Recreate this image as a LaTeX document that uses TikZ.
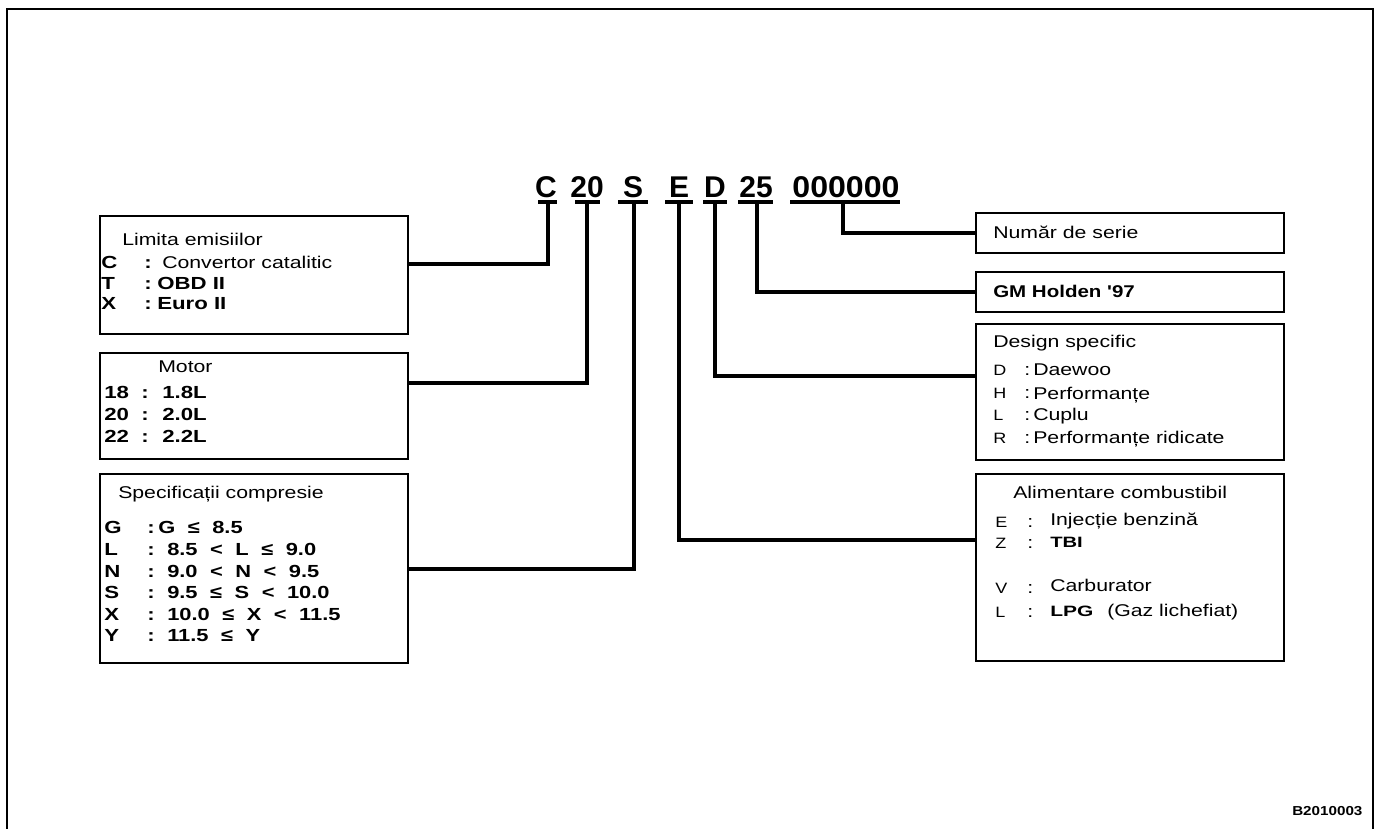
\documentclass[tikz,border=0pt]{standalone}
\usepackage{fontspec}
\setmainfont{Liberation Sans}
\begin{document}
\begin{tikzpicture}[x=1pt,y=-1pt,
  box/.style={draw, line width=2pt, anchor=north west, inner sep=0, rectangle},
  conn/.style={line width=4pt, line cap=rect},
  ul/.style={line width=4.5pt},
  tx/.style={anchor=base west, inner sep=0, xscale=1.25, font=\fontsize{17}{20}\selectfont},
  bk/.style={anchor=base west, inner sep=0, xscale=1.27, font=\bfseries\fontsize{17.5}{20}\selectfont},
  bks/.style={anchor=base west, inner sep=0, xscale=1.25, font=\bfseries\fontsize{17.5}{20}\selectfont, execute at begin node={\spaceskip=10pt\relax}},
  sk/.style={anchor=base west, inner sep=0, xscale=1.2, font=\fontsize{15}{18}\selectfont},
  code/.style={anchor=base, inner sep=0, font=\bfseries\fontsize{30}{34}\selectfont}]
\useasboundingbox (0,0) rectangle (1381,829);
% outer frame (open at the bottom)
\draw[line width=2pt] (7,829) -- (7,9) -- (1373,9) -- (1373,829);

% code
\node[code] (tC) at (546,197) {C};
\node[code] (t20) at (587,197) {20};
\node[code] (tS) at (633,197) {S};
\node[code] (tE) at (679,197) {E};
\node[code] (tD) at (715,197) {D};
\node[code] (t25) at (756,197) {25};
\node[code, xscale=1.07] (t6) at (846,197) {000000};
\draw[ul] (538,202) -- (557,202);
\draw[ul] (575,202) -- (600,202);
\draw[ul] (618,202) -- (648,202);
\draw[ul] (665,202) -- (693,202);
\draw[ul] (703,202) -- (727,202);
\draw[ul] (738,202) -- (773,202);
\draw[ul] (790,202) -- (900,202);
\coordinate (sC) at (548,202);
\coordinate (s20) at (587,202);
\coordinate (sS) at (634,202);
\coordinate (sE) at (679,202);
\coordinate (sD) at (715,202);
\coordinate (s25) at (757,202);
\coordinate (s6) at (843,202);

% boxes
\node[box, minimum width=308, minimum height=118] (lim) at (99,215) {};
\node[box, minimum width=308, minimum height=106] (mot) at (99,352) {};
\node[box, minimum width=308, minimum height=189] (spec) at (99,473) {};
\node[box, minimum width=308, minimum height=40] (num) at (975,212) {};
\node[box, minimum width=308, minimum height=40] (gm) at (975,271) {};
\node[box, minimum width=308, minimum height=136] (des) at (975,323) {};
\node[box, minimum width=308, minimum height=187] (ali) at (975,473) {};

% connector heights
\coordinate (yC) at (0,264);
\coordinate (y20) at (0,383);
\coordinate (yD) at (0,376);
\coordinate (yE) at (0,540);

\draw[conn] (sC) |- (lim.east |- yC);
\draw[conn] (s20) |- (mot.east |- y20);
\draw[conn] (sS) |- (spec.east);
\draw[conn] (sE) |- (ali.west |- yE);
\draw[conn] (sD) |- (des.west |- yD);
\draw[conn] (s25) |- (gm.west);
\draw[conn] (s6) |- (num.west);

% Limita emisiilor
\node[tx] (l0) at (122,245) {Limita emisiilor};
\node[bk] (l1a) at (101,268) {C};
\node[bk] (l1b) at (144,268) {:};
\node[tx] (l1c) at (162,268) {Convertor catalitic};
\node[bk] (l2a) at (101,289) {T};
\node[bk] (l2b) at (144,289) {:};
\node[bk] (l2c) at (157,289) {OBD II};
\node[bk] (l3a) at (101,309) {X};
\node[bk] (l3b) at (144,309) {:};
\node[bk] (l3c) at (157,309) {Euro II};

% Motor
\node[tx] (m0) at (158,372) {Motor};
\node[bk] (m1a) at (104,398) {18};
\node[bk] (m1b) at (141,398) {:};
\node[bk] (m1c) at (162,398) {1.8L};
\node[bk] (m2a) at (104,420) {20};
\node[bk] (m2b) at (141,420) {:};
\node[bk] (m2c) at (162,420) {2.0L};
\node[bk] (m3a) at (104,442) {22};
\node[bk] (m3b) at (141,442) {:};
\node[bk] (m3c) at (162,442) {2.2L};

% Specificatii compresie
\node[tx] (c0) at (118,498) {Specificații compresie};
\node[bk] (c1a) at (104,533) {G};
\node[bk] (c1b) at (147,533) {:};
\node[bks] (c1c) at (158,533) {G ≤ 8.5};
\node[bk] (c2a) at (104,555) {L};
\node[bk] (c2b) at (147,555) {:};
\node[bks] (c2c) at (167,555) {8.5 < L ≤ 9.0};
\node[bk] (c3a) at (104,577) {N};
\node[bk] (c3b) at (147,577) {:};
\node[bks] (c3c) at (167,577) {9.0 < N < 9.5};
\node[bk] (c4a) at (104,598) {S};
\node[bk] (c4b) at (147,598) {:};
\node[bks] (c4c) at (167,598) {9.5 ≤ S < 10.0};
\node[bk] (c5a) at (104,620) {X};
\node[bk] (c5b) at (147,620) {:};
\node[bks] (c5c) at (167,620) {10.0 ≤ X < 11.5};
\node[bk] (c6a) at (104,641) {Y};
\node[bk] (c6b) at (147,641) {:};
\node[bks] (c6c) at (167,641) {11.5 ≤ Y};

% right boxes
\node[tx] (n0) at (993,238) {Număr de serie};
\node[bk, xscale=0.95, font=\bfseries\fontsize{17}{20}\selectfont] (g0) at (993,297) {GM Holden \textquotesingle97};

\node[tx] (d0) at (993,347) {Design specific};
\node[sk] (d1a) at (993,375) {D};
\node[tx] (d1b) at (1024,375) {:};
\node[tx] (d1c) at (1033,375) {Daewoo};
\node[sk] (d2a) at (993,398) {H};
\node[tx] (d2b) at (1024,398) {:};
\node[tx] (d2c) at (1033,399) {Performanțe};
\node[sk] (d3a) at (993,420) {L};
\node[tx] (d3b) at (1024,420) {:};
\node[tx] (d3c) at (1033,420) {Cuplu};
\node[sk] (d4a) at (993,443) {R};
\node[tx] (d4b) at (1024,443) {:};
\node[tx] (d4c) at (1033,443) {Performanțe ridicate};

\node[tx] (a0) at (1013,498) {Alimentare combustibil};
\node[sk] (a1a) at (995,527) {E};
\node[tx] (a1b) at (1027,527) {:};
\node[tx] (a1c) at (1050,525) {Injecție benzină};
\node[sk] (a2a) at (995,548) {Z};
\node[tx] (a2b) at (1027,548) {:};
\node[bk, xscale=1.06, font=\bfseries\fontsize{15}{18}\selectfont] (a2c) at (1050,547) {TBI};
\node[sk] (a3a) at (995,593) {V};
\node[tx] (a3b) at (1027,593) {:};
\node[tx] (a3c) at (1050,591) {Carburator};
\node[sk] (a4a) at (995,617) {L};
\node[tx] (a4b) at (1027,617) {:};
\node[bk, xscale=1.1, font=\bfseries\fontsize{15}{18}\selectfont] (a4c) at (1050,616) {LPG};
\node[tx] (a4d) at (1107,616) {(Gaz lichefiat)};

\node[anchor=base west, inner sep=0, xscale=1.17, font=\bfseries\fontsize{13}{15}\selectfont] (ref) at (1292,815) {B2010003};
\end{tikzpicture}
\end{document}
